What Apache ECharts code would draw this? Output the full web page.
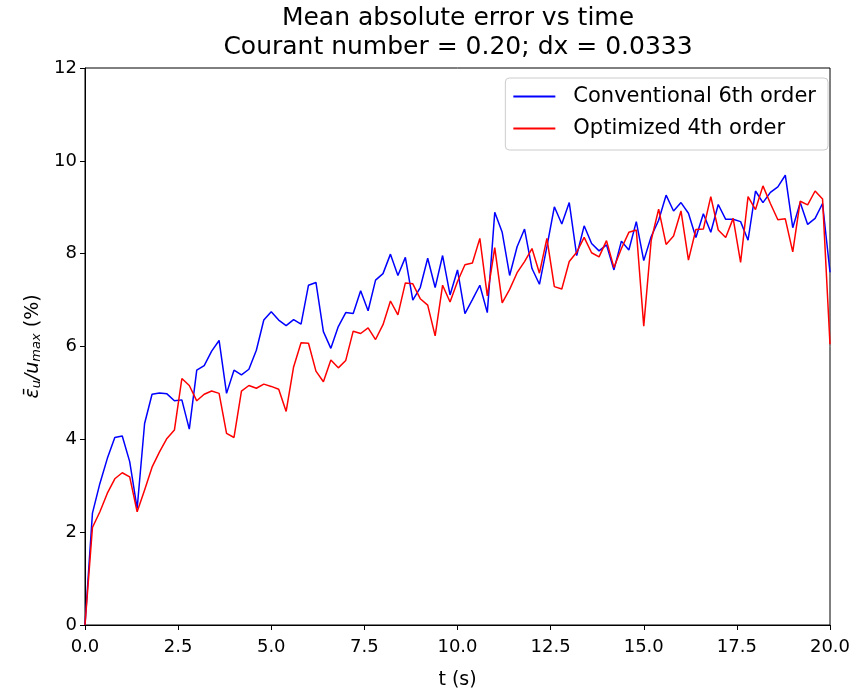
<!DOCTYPE html>
<html>
<head>
<meta charset="utf-8">
<script src="https://cdn.jsdelivr.net/npm/echarts@6/dist/echarts.min.js"></script>
<style>
html, body { margin: 0; padding: 0; background: #fff; }
#chart { width: 859px; height: 697px; }
</style>
</head>
<body>
<div id="chart"></div>
<script>
// time step between samples (s)
var dt = 0.2;
var xTicks = [0, 2.5, 5, 7.5, 10, 12.5, 15, 17.5, 20];
var yTicks = [0, 2, 4, 6, 8, 10, 12];

var conv6 = [0.0, 2.41, 3.05, 3.59, 4.04, 4.07, 3.52, 2.51, 4.34, 4.97,
    5.00, 4.98, 4.83, 4.85, 4.22, 5.49, 5.59, 5.90, 6.13, 4.99,
    5.49, 5.39, 5.51, 5.92, 6.57, 6.75, 6.57, 6.45, 6.58, 6.48,
    7.32, 7.38, 6.32, 5.96, 6.43, 6.73, 6.71, 7.20, 6.77, 7.43,
    7.57, 7.99, 7.53, 7.92, 7.00, 7.27, 7.90, 7.27, 7.96, 7.11,
    7.65, 6.71, 7.01, 7.32, 6.73, 8.89, 8.46, 7.53, 8.15, 8.53,
    7.68, 7.34, 8.15, 9.01, 8.64, 9.10, 7.96, 8.60, 8.22, 8.06,
    8.19, 7.65, 8.27, 8.08, 8.69, 7.85, 8.37, 8.72, 9.26, 8.92,
    9.10, 8.87, 8.35, 8.86, 8.46, 9.06, 8.74, 8.74, 8.69, 8.29,
    9.35, 9.10, 9.32, 9.44, 9.69, 8.56, 9.10, 8.63, 8.76, 9.08,
    7.60];

var opt4 = [0.0, 2.10, 2.44, 2.84, 3.15, 3.28, 3.19, 2.44, 2.91, 3.40,
    3.73, 4.02, 4.20, 5.31, 5.16, 4.83, 4.97, 5.04, 4.99, 4.13,
    4.04, 5.04, 5.16, 5.10, 5.19, 5.14, 5.08, 4.60, 5.56, 6.08,
    6.07, 5.47, 5.24, 5.71, 5.54, 5.70, 6.33, 6.28, 6.40, 6.15,
    6.47, 6.98, 6.68, 7.37, 7.35, 7.03, 6.89, 6.23, 7.32, 6.96,
    7.40, 7.76, 7.80, 8.33, 7.09, 8.13, 6.94, 7.23, 7.59, 7.83,
    8.11, 7.58, 8.33, 7.29, 7.24, 7.83, 8.03, 8.35, 8.02, 7.93,
    8.28, 7.70, 8.11, 8.46, 8.51, 6.44, 8.29, 8.96, 8.20, 8.38,
    8.92, 7.86, 8.52, 8.53, 9.23, 8.51, 8.35, 8.76, 7.81, 9.23,
    8.95, 9.46, 9.08, 8.73, 8.75, 8.04, 9.13, 9.05, 9.35, 9.18,
    6.05];

function pairs(arr) {
    return arr.map(function (v, i) { return [+(i * dt).toFixed(1), v]; });
}

var font = 'DejaVu Sans';
var myChart = echarts.init(document.getElementById('chart'));

var option = {
    animation: false,
    backgroundColor: '#fff',
    title: {
        text: 'Mean absolute error vs time\nCourant number = 0.20; dx = 0.0333',
        left: 458,
        top: 4,
        padding: 0,
        textAlign: 'center',
        textStyle: {
            fontFamily: font,
            fontWeight: 'normal',
            fontSize: 25,
            lineHeight: 29,
            color: '#000'
        }
    },
    legend: {
        orient: 'vertical',
        right: 31,
        top: 78,
        padding: [8, 12, 11, 8],
        itemGap: 11,
        itemWidth: 42,
        itemHeight: 2,
        borderColor: '#cccccc',
        borderWidth: 1,
        borderRadius: 4,
        backgroundColor: 'rgba(255,255,255,0.8)',
        textStyle: {
            fontFamily: font,
            fontSize: 21,
            color: '#000',
            padding: [0, 0, 0, 13]
        },
        data: [
            { name: 'Conventional 6th order', icon: 'rect' },
            { name: 'Optimized 4th order', icon: 'rect' }
        ]
    },
    grid: {
        left: 85,
        right: 29,
        top: 68,
        bottom: 72,
        show: true,
        borderColor: '#000',
        borderWidth: 1,
        backgroundColor: 'transparent'
    },
    xAxis: {
        type: 'value',
        min: 0,
        max: 20,
        interval: 2.5,
        name: 't (s)',
        nameLocation: 'middle',
        nameGap: 46,
        nameTextStyle: { fontFamily: font, fontSize: 19, color: '#000' },
        splitLine: { show: false },
        axisLine: { lineStyle: { color: '#000', width: 1 } },
        axisTick: { inside: false, length: 5, lineStyle: { color: '#000' } },
        axisLabel: {
            margin: 13,
            fontFamily: font,
            fontSize: 18,
            color: '#000',
            formatter: function (v) { return v.toFixed(1); }
        }
    },
    yAxis: {
        type: 'value',
        min: 0,
        max: 12,
        interval: 2,
        name: '{it|ε̄}{sub|u}{it|/u}{sub|max}{n| (%)}',
        nameLocation: 'middle',
        nameRotate: 90,
        nameGap: 41,
        nameTextStyle: {
            fontFamily: font,
            fontSize: 19,
            color: '#000',
            rich: {
                it: { fontFamily: font, fontSize: 19, fontStyle: 'italic', color: '#000' },
                sub: { fontFamily: font, fontSize: 13, fontStyle: 'italic', color: '#000', verticalAlign: 'bottom', padding: [8, 0, 0, 0] },
                n: { fontFamily: font, fontSize: 19, color: '#000' }
            }
        },
        splitLine: { show: false },
        axisLine: { show: true, lineStyle: { color: '#000', width: 1 } },
        axisTick: { show: true, inside: false, length: 5, lineStyle: { color: '#000' } },
        axisLabel: {
            margin: 8,
            fontFamily: font,
            fontSize: 18,
            color: '#000'
        }
    },
    series: [
        {
            name: 'Conventional 6th order',
            type: 'line',
            data: pairs(conv6),
            showSymbol: false,
            symbol: 'none',
            color: '#0000ff',
            lineStyle: { color: '#0000ff', width: 1.5 }
        },
        {
            name: 'Optimized 4th order',
            type: 'line',
            data: pairs(opt4),
            showSymbol: false,
            symbol: 'none',
            color: '#ff0000',
            lineStyle: { color: '#ff0000', width: 1.5 }
        }
    ]
};
myChart.setOption(option);
</script>
</body>
</html>
